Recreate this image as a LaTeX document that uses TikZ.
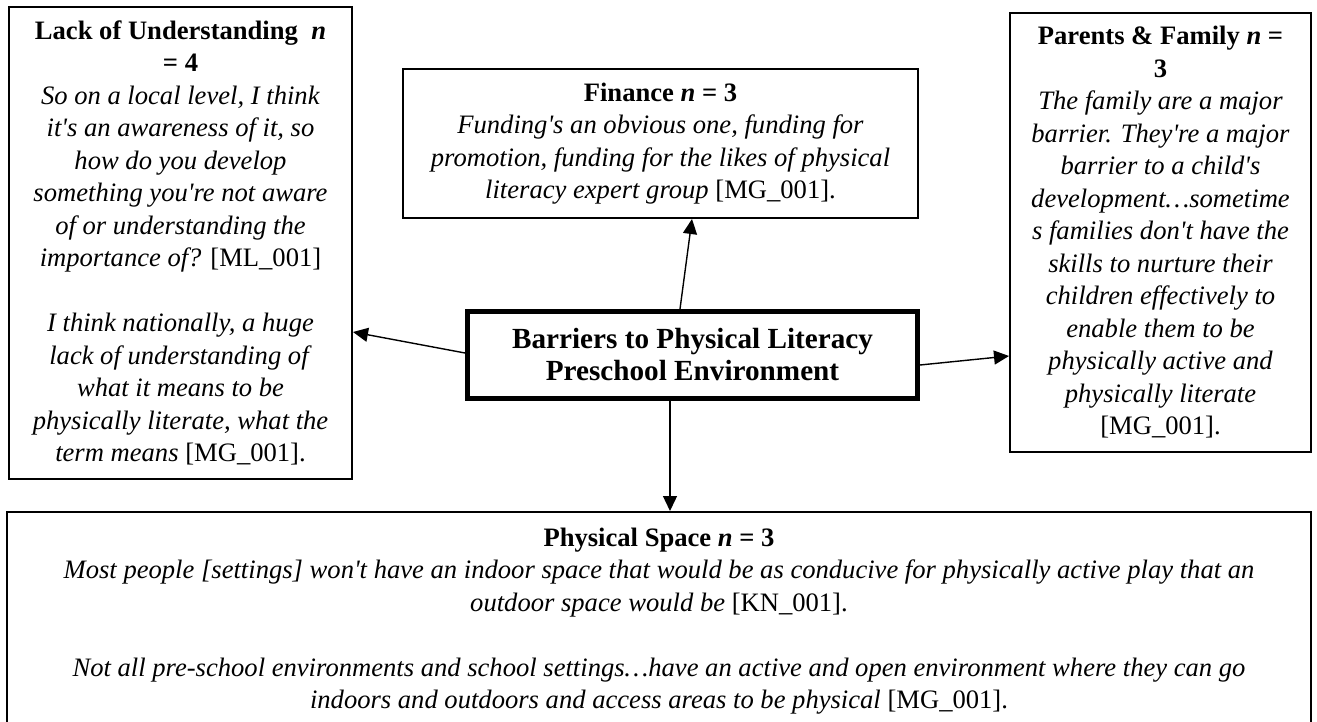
\documentclass[tikz,border=0pt]{standalone}
\usepackage{fontspec}
\setmainfont{Liberation Serif}
\usepackage{xcolor}
\usepackage{tikz}
\usetikzlibrary{arrows.meta, positioning}

\newcommand{\sq}{\textquotesingle}

\begin{document}
\begin{tikzpicture}[
  x=0.5pt, y=-0.5pt,
  theme/.style={rectangle,draw,line width=1pt,align=center,inner sep=0pt,font=\fontsize{13.3}{16.25}\selectfont},
  hub/.style={rectangle,draw,line width=2.5pt,align=center,inner sep=0pt,font=\fontsize{14.6}{16}\selectfont\bfseries},
  link/.style={-{Triangle[length=7.5pt,width=7pt]},line width=0.7pt}
]
\useasboundingbox (0,0) rectangle (1317,722);

\node[hub,minimum width=225pt,minimum height=43.5pt] (hub) at (692.5,355)
  {Barriers to Physical Literacy\\Preschool Environment};

\node[theme,minimum width=171.5pt,minimum height=236pt] (lack) at (180.5,243)
  {\textbf{Lack of Understanding\ \ \textit{n}}\\
   \textbf{= 4}\\
   \textit{So on a local level, I think}\\
   \textit{it\sq s an awareness of it, so}\\
   \textit{how do you develop}\\
   \textit{something you\sq re not aware}\\
   \textit{of or understanding the}\\
   \textit{importance of?} [ML\_001]\\[16.25pt]
   \textit{I think nationally, a huge}\\
   \textit{lack of understanding of}\\
   \textit{what it means to be}\\
   \textit{physically literate, what the}\\
   \textit{term means} [MG\_001].};

\node[theme,minimum width=257.5pt,minimum height=74.5pt] (finance) at (660.5,143.5)
  {\textbf{Finance \textit{n} = 3}\\
   \textit{Funding\sq s an obvious one, funding for}\\
   \textit{promotion, funding for the likes of physical}\\
   \textit{literacy expert group} [MG\_001].};

\node[theme,minimum width=150.5pt,minimum height=219.5pt] (family) at (1160.5,232.5)
  {\textbf{Parents \& Family \textit{n} =}\\
   \textbf{3}\\
   \textit{The family are a major}\\
   \textit{barrier. They\sq re a major}\\
   \textit{barrier to a child\sq s}\\
   \textit{development…sometime}\\
   \textit{s families don\sq t have the}\\
   \textit{skills to nurture their}\\
   \textit{children effectively to}\\
   \textit{enable them to be}\\
   \textit{physically active and}\\
   \textit{physically literate}\\
   \relax{[MG\_001]}.};

\node[theme,minimum width=652pt,minimum height=109pt] (space) at (659,621)
  {\textbf{Physical Space \textit{n} = 3}\\
   \textit{Most people [settings] won\sq t have an indoor space that would be as conducive for physically active play that an}\\
   \textit{outdoor space would be} [KN\_001].\\[16.25pt]
   \textit{Not all pre-school environments and school settings…have an active and open environment where they can go}\\
   \textit{indoors and outdoors and access areas to be physical} [MG\_001].};

% connectors
\draw[link] ([yshift=1pt]hub.west) -- ([yshift=-44.5pt]lack.east);
\draw[link] ([xshift=-6.25pt]hub.north) -- ([xshift=15.75pt]finance.south);
\draw[link] ([yshift=-5pt]hub.east) -- ([yshift=-61.75pt]family.west);
\draw[link] ([xshift=-11.25pt]hub.south) -- ([xshift=-11.25pt]hub.south |- space.north);

\end{tikzpicture}
\end{document}
